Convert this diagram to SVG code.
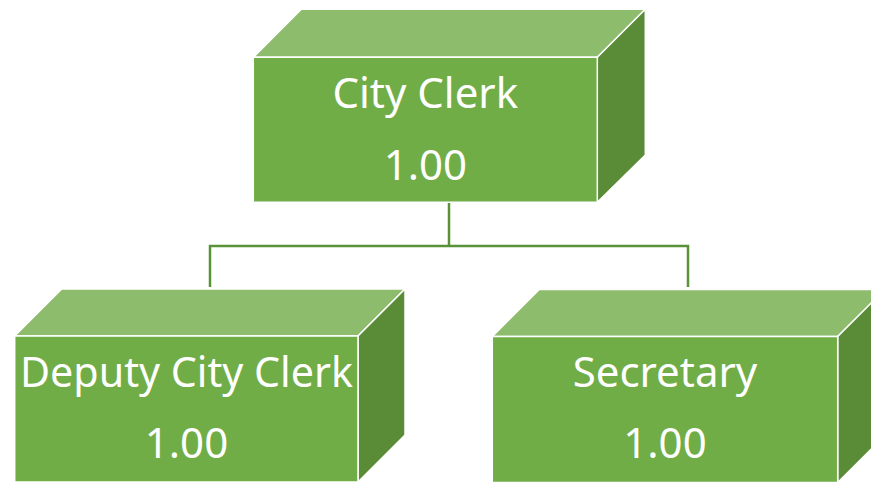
<svg xmlns="http://www.w3.org/2000/svg" width="871" height="483" viewBox="0 0 871 483">
<style>
.front{fill:#70AD47;stroke:#FFFFFF;stroke-width:1.5;stroke-linejoin:round}
.top{fill:#8DBD6C;stroke:#FFFFFF;stroke-width:1.5;stroke-linejoin:round}
.side{fill:#5A8C38;stroke:#FFFFFF;stroke-width:1.5;stroke-linejoin:round}
.lbl{font-family:"Noto Sans","Open Sans","Liberation Sans",sans-serif;font-size:42px;fill:#FFFFFF;text-anchor:middle}
.conn{fill:none;stroke:#5A9237;stroke-width:2.5}
</style>
<rect width="871" height="483" fill="#FFFFFF"/>
<g id="connectors">
<polyline class="conn" points="449,203 449,246"/>
<polyline class="conn" points="210,287 210,246 688,246 688,287"/>
</g>
<g id="city-clerk">
<polygon class="top" points="253.3,57.3 301.3,9.3 645.3,9.3 597.3,57.3"/>
<polygon class="side" points="597.3,57.3 645.3,9.3 645.3,155 597.3,202.3"/>
<rect class="front" x="253.3" y="57.3" width="344" height="145"/>
<text class="lbl" x="425.3" y="108">City Clerk</text>
<text class="lbl" x="425.3" y="180">1.00</text>
</g>
<g id="deputy-city-clerk">
<polygon class="top" points="14.7,336 61.7,289 405,289 358,336"/>
<polygon class="side" points="358,336 405,289 405,435 358,482"/>
<rect class="front" x="14.7" y="336" width="343.3" height="146"/>
<text class="lbl" x="186.5" y="387" textLength="333" lengthAdjust="spacingAndGlyphs">Deputy City Clerk</text>
<text class="lbl" x="186.5" y="458">1.00</text>
</g>
<g id="secretary">
<polygon class="top" points="492.3,336.5 539.3,289.5 884.7,289.5 837.7,336.5"/>
<polygon class="side" points="837.7,336.5 884.7,289.5 884.7,435.5 837.7,482.5"/>
<rect class="front" x="492.3" y="336.5" width="345.4" height="146"/>
<text class="lbl" x="665" y="387">Secretary</text>
<text class="lbl" x="665" y="458">1.00</text>
</g>
</svg>
